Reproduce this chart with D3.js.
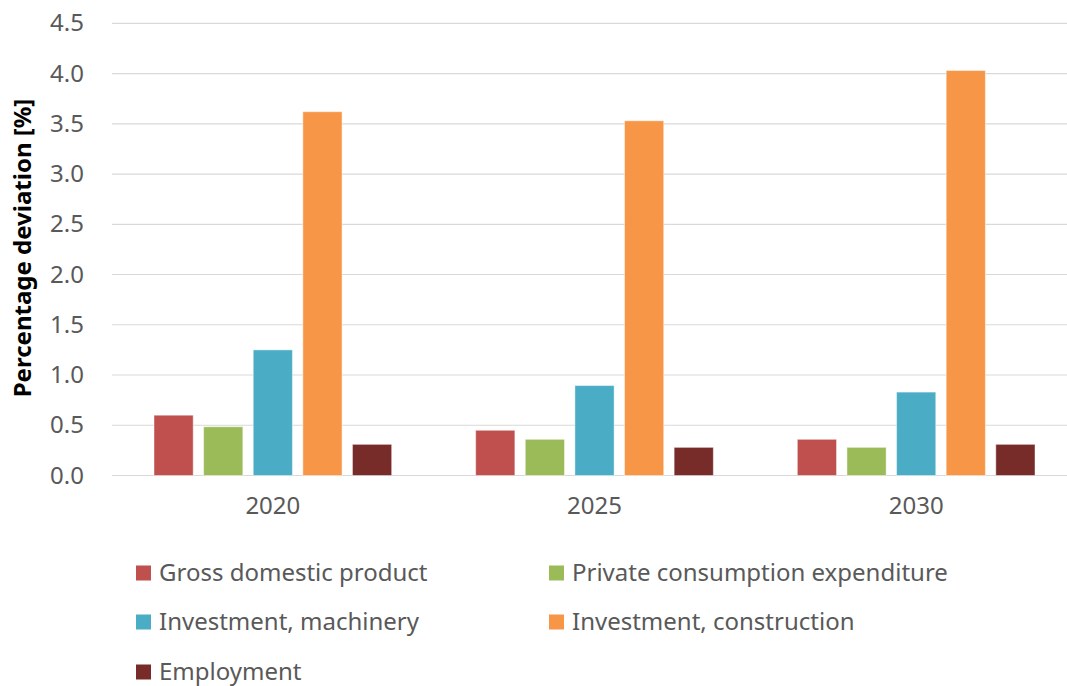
<!DOCTYPE html>
<html>
<head>
<meta charset="utf-8">
<script src="https://cdn.jsdelivr.net/npm/d3@7"></script>
<style>
  html, body { margin: 0; padding: 0; background: #fff; }
  svg { display: block; font-family: "Noto Sans", sans-serif; }
</style>
</head>
<body>
<svg id="chart" width="1067" height="686"></svg>
<script>
const years = ["2020", "2025", "2030"];
const seriesNames = [
  "Gross domestic product",
  "Private consumption expenditure",
  "Investment, machinery",
  "Investment, construction",
  "Employment"
];
const gdp          = [0.60, 0.45, 0.36];
const consumption  = [0.485, 0.36, 0.28];
const machinery    = [1.25, 0.895, 0.83];
const construction = [3.62, 3.53, 4.03];
const employment   = [0.31, 0.28, 0.31];
const yTicks = [0, 0.5, 1.0, 1.5, 2.0, 2.5, 3.0, 3.5, 4.0, 4.5];
const colors = ["#C0504D", "#9BBB59", "#4BACC6", "#F79646", "#772C2A"];

const seriesValues = [gdp, consumption, machinery, construction, employment];

const svg = d3.select("#chart");
const textColor = "#595959";

const x0 = d3.scaleBand().domain(years).range([112, 1077]).paddingInner(0).paddingOuter(0);
const x1 = d3.scaleBand().domain(seriesNames.map((d, i) => i))
  .range([42, x0.bandwidth() - 42]).paddingInner(0.21).paddingOuter(0);
const y = d3.scaleLinear().domain([0, 4.5]).range([475.5, 23.3]);

// gridlines
const grid = svg.append("g").attr("class", "grid");
grid.selectAll("line").data(yTicks).join("line")
  .attr("x1", 112).attr("x2", 1077)
  .attr("y1", d => y(d)).attr("y2", d => y(d))
  .attr("stroke", "#D9D9D9").attr("stroke-width", 1.2);

// y axis labels
const yAxis = d3.axisLeft(y).tickValues(yTicks).tickFormat(d3.format(".1f")).tickSize(0).tickPadding(0);
const yg = svg.append("g").attr("transform", "translate(84,0)").call(yAxis);
yg.select(".domain").remove();
yg.selectAll("text").attr("fill", textColor).style("font-size", "24px")
  .style("font-family", "'Noto Sans', sans-serif");

// x axis labels
const xAxis = d3.axisBottom(x0).tickSize(0).tickPadding(0);
const xg = svg.append("g").attr("transform", "translate(0,497)").call(xAxis);
xg.select(".domain").remove();
xg.selectAll("text").attr("fill", textColor).style("font-size", "24px")
  .style("font-family", "'Noto Sans', sans-serif");

// bars
const groups = svg.append("g").selectAll("g").data(years).join("g")
  .attr("transform", d => `translate(${x0(d)},0)`);
groups.selectAll("rect")
  .data((yr, yi) => seriesValues.map((vals, si) => ({ si, v: vals[yi] })))
  .join("rect")
  .attr("x", d => x1(d.si))
  .attr("width", x1.bandwidth())
  .attr("y", d => y(d.v))
  .attr("height", d => y(0) - y(d.v))
  .attr("fill", d => colors[d.si])
  .attr("stroke", "rgba(255,255,255,0.45)")
  .attr("stroke-width", 1);

// y axis title
svg.append("text")
  .attr("transform", "translate(31,248) rotate(-90)")
  .attr("text-anchor", "middle")
  .style("font-size", "24px")
  .style("font-weight", "bold")
  .attr("fill", "#000")
  .text("Percentage deviation [%]");

// legend
const legendPos = [
  [136, 573], [549, 573],
  [136, 622], [549, 622],
  [136, 672]
];
const legend = svg.append("g").selectAll("g").data(seriesNames).join("g")
  .attr("transform", (d, i) => `translate(${legendPos[i][0]},${legendPos[i][1]})`);
legend.append("rect")
  .attr("x", 0).attr("y", -7.5).attr("width", 15).attr("height", 15)
  .attr("fill", (d, i) => colors[i]);
legend.append("text")
  .attr("x", 23).attr("y", 0).attr("dy", "0.35em")
  .style("font-size", "24px")
  .attr("fill", textColor)
  .text(d => d);
</script>
</body>
</html>
